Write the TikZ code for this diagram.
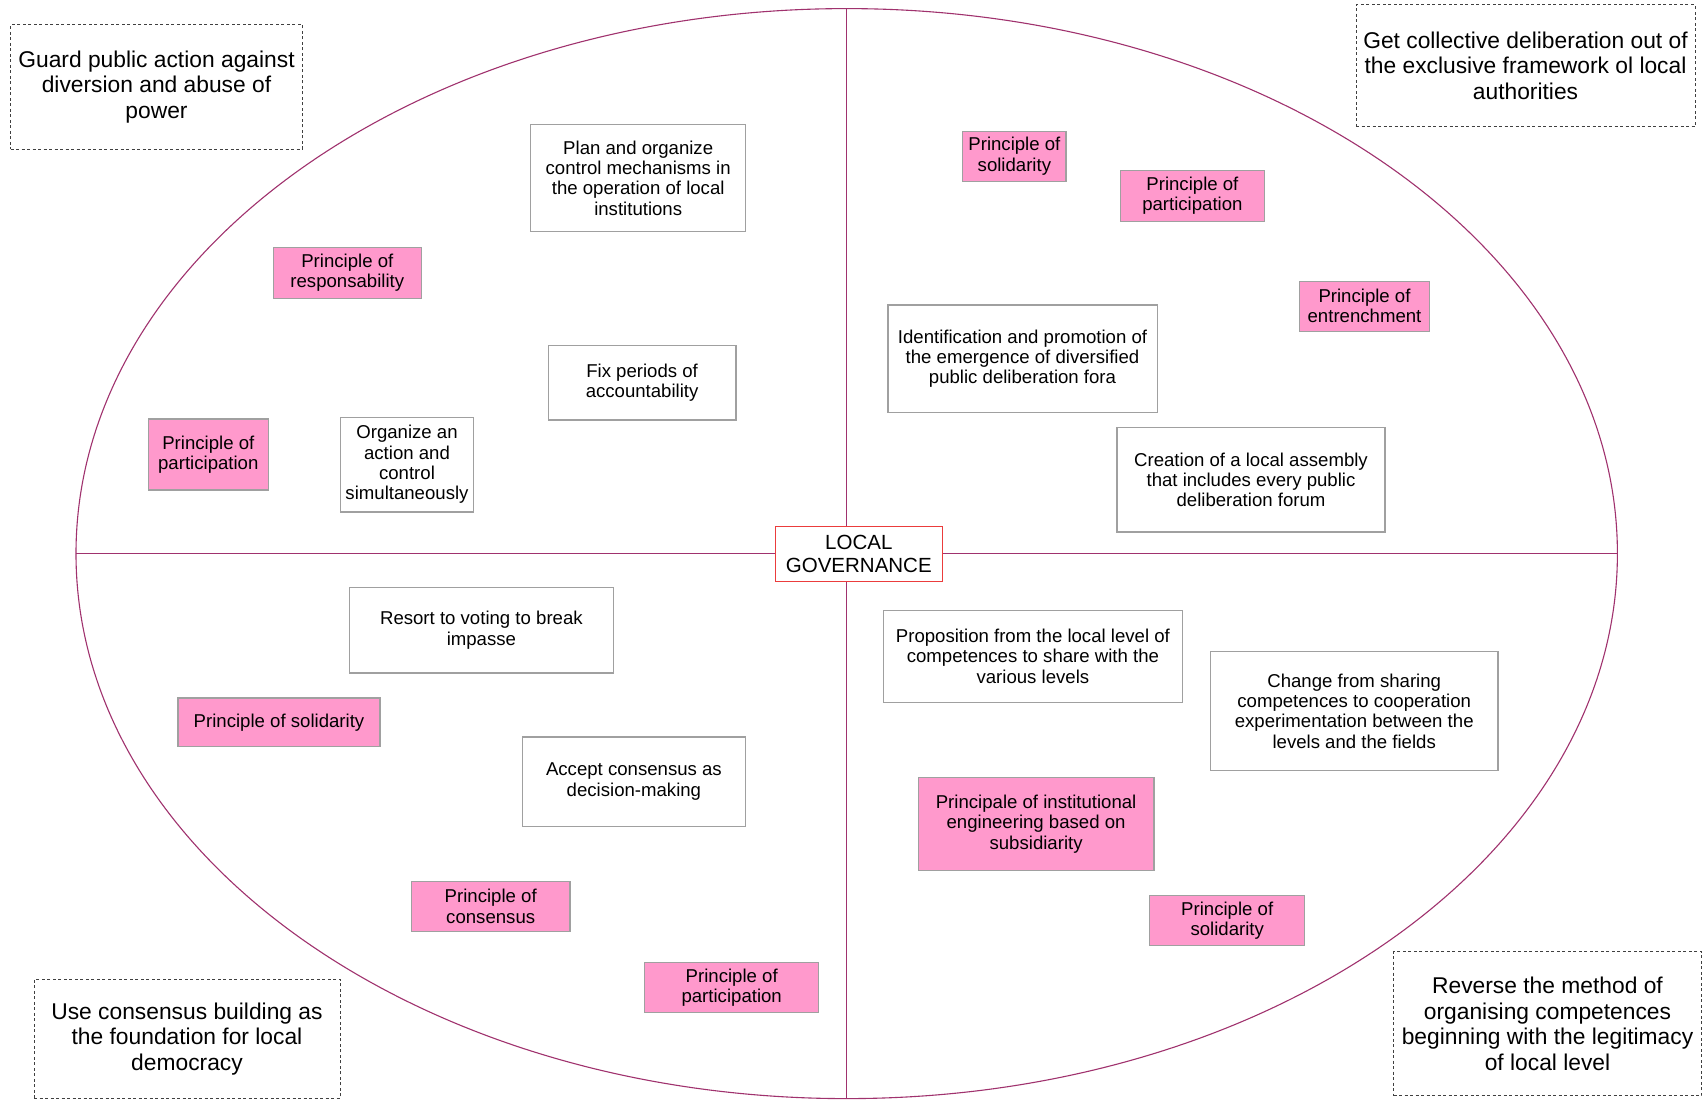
\documentclass[tikz,border=0pt]{standalone}
\usepackage{fontspec}
\setmainfont{Liberation Sans}
\definecolor{axiscol}{RGB}{160,50,110}
\definecolor{pinkfill}{RGB}{255,153,204}
\definecolor{boxline}{RGB}{160,160,160}
\definecolor{govred}{RGB}{235,60,60}
\begin{document}
\begin{tikzpicture}[x=1pt,y=-1pt,
  axisline/.style={draw=axiscol,line width=1.1pt},
  whitebox/.style={draw=boxline,fill=white,line width=1.2pt,align=center,inner sep=2pt,font=\fontsize{18.6}{20.3}\selectfont},
  pinkbox/.style={whitebox,fill=pinkfill},
  goalbox/.style={draw=black!75,dash pattern=on 3pt off 2.5pt,line width=1pt,align=center,inner sep=2pt,font=\fontsize{22.8}{25.5}\selectfont},
  govbox/.style={draw=govred,fill=white,line width=1.2pt,align=center,inner sep=2pt,font=\fontsize{20.5}{22.7}\selectfont}
]
\useasboundingbox (0,0) rectangle (1702,1100);
\fill[white] (0,0) rectangle (1702,1100);
% ellipse and axes
\draw[axisline] (846.7,553.6) ellipse [x radius=770.7, y radius=545];
\coordinate (eL) at (76,553.6);
\coordinate (eR) at (1617.4,553.6);
\coordinate (eT) at (846.7,8.6);
\coordinate (eB) at (846.7,1098.6);
\draw[axisline] (eL) -- (eR);
\draw[axisline] (eT) -- (eB);
% centre
\node[govbox,minimum width=167pt,minimum height=54.6pt] (gov) at (858.8,554) {LOCAL\\GOVERNANCE};
% corner goals
\node[goalbox,minimum width=291.6pt,minimum height=124.6pt] (g1) at (156.5,87) {Guard public action against\\diversion and abuse of\\power};
\node[goalbox,minimum width=339pt,minimum height=121.7pt] (g2) at (1525.5,65.8) {Get collective deliberation out of\\the exclusive framework ol local\\authorities};
\node[goalbox,minimum width=306pt,minimum height=119pt] (g3) at (187,1038.8) {Use consensus building as\\the foundation for local\\democracy};
\node[goalbox,minimum width=308pt,minimum height=144pt] (g4) at (1547.5,1023.7) {Reverse the method of\\organising competences\\beginning with the legitimacy\\of local level};
% top-left quadrant
\node[whitebox,minimum width=214.9pt,minimum height=106.4pt] (q1a) at (638.2,178) {Plan and organize\\control mechanisms in\\the operation of local\\institutions};
\node[pinkbox,minimum width=147.7pt,minimum height=51pt] (q1b) at (347.3,273) {Principle of\\responsability};
\node[whitebox,minimum width=187.8pt,minimum height=74.9pt] (q1c) at (642.1,382.6) {Fix periods of\\accountability};
\node[pinkbox,minimum width=120pt,minimum height=71pt] (q1d) at (208.3,454.5) {Principle of\\participation};
\node[whitebox,minimum width=133.4pt,minimum height=94.7pt] (q1e) at (407,464.6) {Organize an\\action and\\control\\simultaneously};
% top-right quadrant
\node[pinkbox,minimum width=103.2pt,minimum height=50pt] (q2a) at (1014.4,156.3) {Principle of\\solidarity};
\node[pinkbox,minimum width=144.4pt,minimum height=51pt] (q2b) at (1192.4,195.9) {Principle of\\participation};
\node[pinkbox,minimum width=130.3pt,minimum height=50pt] (q2c) at (1364.5,306.1) {Principle of\\entrenchment};
\node[whitebox,minimum width=269.2pt,minimum height=107.5pt] (q2d) at (1022.5,358.8) {Identification and promotion of\\the emergence of diversified\\public deliberation fora};
\node[whitebox,minimum width=268.1pt,minimum height=104.2pt] (q2e) at (1251,479.8) {Creation of a local assembly\\that includes every public\\deliberation forum};
% bottom-left quadrant
\node[whitebox,minimum width=263.8pt,minimum height=85.7pt] (q3a) at (481.4,630.2) {Resort to voting to break\\impasse};
\node[pinkbox,minimum width=201.9pt,minimum height=48.8pt] (q3b) at (279,722.4) {Principle of solidarity};
\node[whitebox,minimum width=223.6pt,minimum height=89.1pt] (q3c) at (633.9,781.6) {Accept consensus as\\decision-making};
\node[pinkbox,minimum width=158.5pt,minimum height=50pt] (q3d) at (490.7,906.4) {Principle of\\consensus};
\node[pinkbox,minimum width=173.7pt,minimum height=50pt] (q3e) at (731.7,987.8) {Principle of\\participation};
% bottom-right quadrant
\node[whitebox,minimum width=298.5pt,minimum height=92.2pt] (q4a) at (1032.9,656.2) {Proposition from the local level of\\competences to share with the\\various levels};
\node[whitebox,minimum width=287.7pt,minimum height=119.4pt] (q4b) at (1354.2,711) {Change from sharing\\competences to cooperation\\experimentation between the\\levels and the fields};
\node[pinkbox,minimum width=235.6pt,minimum height=93.4pt] (q4c) at (1036.1,823.9) {Principale of institutional\\engineering based on\\subsidiarity};
\node[pinkbox,minimum width=155.3pt,minimum height=50pt] (q4d) at (1227.2,920.5) {Principle of\\solidarity};
\end{tikzpicture}
\end{document}
